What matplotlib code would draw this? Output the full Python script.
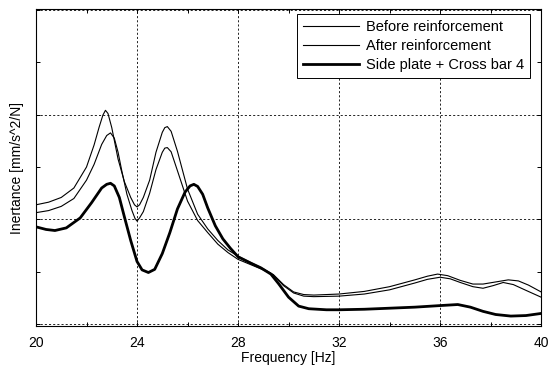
import matplotlib
matplotlib.use("Agg")
import matplotlib.pyplot as plt
from matplotlib.ticker import MultipleLocator, NullFormatter

plt.rcParams["font.family"] = ["Liberation Sans", "DejaVu Sans"]

# frequency [Hz] / inertance (no scale printed on the y axis)
freq_before = [20, 20.5, 21, 21.5, 22, 22.3, 22.5, 22.65, 22.75, 22.85, 23.0, 23.25,
               23.5, 23.75, 23.9, 24.0, 24.1, 24.25, 24.5, 24.75, 25.0, 25.1, 25.2,
               25.35, 25.6, 26.0, 26.4, 26.8, 27.2, 27.6, 28.0, 28.5, 29.0, 29.4,
               29.8, 30.2, 30.6, 31, 32, 33, 34, 35, 35.5, 35.9, 36.3, 36.8, 37.3,
               37.7, 38.2, 38.7, 39.1, 39.5, 40]
before = [2.28, 2.33, 2.42, 2.6, 3.0, 3.42, 3.76, 3.99, 4.08, 4.02, 3.75, 3.15,
          2.72, 2.42, 2.28, 2.24, 2.28, 2.42, 2.75, 3.28, 3.66, 3.75, 3.77,
          3.68, 3.3, 2.58, 2.1, 1.82, 1.6, 1.42, 1.3, 1.18, 1.06, 0.95,
          0.76, 0.62, 0.57, 0.56, 0.58, 0.63, 0.72, 0.85, 0.92, 0.96, 0.93, 0.84, 0.77,
          0.77, 0.81, 0.85, 0.83, 0.75, 0.62]

freq_after = [20, 20.5, 21, 21.5, 22, 22.3, 22.6, 22.8, 22.95, 23.1, 23.25, 23.4,
              23.6, 23.8, 23.92, 24.0, 24.1, 24.25, 24.5, 24.75, 25.0, 25.1, 25.2,
              25.35, 25.6, 26.0, 26.4, 26.8, 27.2, 27.6, 28.0, 28.5, 29.0, 29.4,
              29.8, 30.2, 30.6, 31, 32, 33, 34, 35, 35.5, 36.0, 36.4, 36.8, 37.3,
              37.7, 38.1, 38.5, 38.9, 39.4, 40]
after = [2.13, 2.17, 2.25, 2.4, 2.75, 3.05, 3.43, 3.6, 3.65, 3.55, 3.28, 2.92,
         2.48, 2.17, 2.02, 1.97, 2.03, 2.15, 2.5, 2.95, 3.28, 3.36, 3.37,
         3.29, 2.93, 2.35, 1.98, 1.75, 1.53, 1.37, 1.24, 1.14, 1.04, 0.94,
         0.74, 0.6, 0.54, 0.53, 0.54, 0.58, 0.66, 0.79, 0.86, 0.9, 0.87, 0.8, 0.72,
         0.69, 0.74, 0.8, 0.76, 0.65, 0.52]

freq_side = [20, 20.4, 20.75, 21.2, 21.75, 22.2, 22.6, 22.8, 22.95, 23.1, 23.3,
             23.5, 23.75, 24.0, 24.2, 24.45, 24.7, 25.0, 25.3, 25.6, 25.9, 26.1,
             26.25, 26.4, 26.6, 26.8, 27.1, 27.4, 27.7, 28.0, 28.5, 28.9, 29.3,
             29.6, 30.0, 30.4, 30.8, 31.5, 32, 33, 34, 35, 36, 36.7, 37.2, 37.7,
             38.2, 38.8, 39.4, 40]
side = [1.86, 1.81, 1.79, 1.84, 2.03, 2.32, 2.6, 2.67, 2.69, 2.64, 2.42,
        2.05, 1.6, 1.2, 1.04, 0.99, 1.05, 1.35, 1.75, 2.2, 2.52, 2.64,
        2.67, 2.63, 2.48, 2.22, 1.88, 1.63, 1.45, 1.29, 1.17, 1.08, 0.96,
        0.78, 0.52, 0.35, 0.3, 0.28, 0.28, 0.29, 0.31, 0.33, 0.36, 0.38, 0.33, 0.25,
        0.19, 0.16, 0.17, 0.21]

x_ticks = [20, 24, 28, 32, 36, 40]

fig = plt.figure(figsize=(5.59, 3.68), dpi=100)
ax = fig.add_axes([0.0644, 0.114, 0.9036, 0.8615])

ax.plot(freq_before, before, color="black", lw=0.8, label="Before reinforcement")
ax.plot(freq_after, after, color="black", lw=0.8, label="After reinforcement")
ax.plot(freq_side, side, color="black", lw=2.0, label="Side plate + Cross bar 4")

ax.set_xlim(20, 40)
ax.set_ylim(-0.03, 6.01)
ax.set_xticks(x_ticks)
ax.xaxis.set_minor_locator(MultipleLocator(2))
ax.yaxis.set_major_locator(MultipleLocator(2))
ax.yaxis.set_minor_locator(MultipleLocator(1))
ax.yaxis.set_major_formatter(NullFormatter())
ax.tick_params(which="both", direction="in", length=3, width=0.7, top=True, right=True)
ax.tick_params(axis="x", labelsize=10, pad=7)
ax.grid(True, which="major", color="black", linestyle=(0, (2.5, 2.5)), lw=0.6)

for s in ax.spines.values():
    s.set_linewidth(0.8)

ax.set_xlabel("Frequency [Hz]", fontsize=10, labelpad=1)
ax.set_ylabel("Inertance [mm/s^2/N]", fontsize=10, labelpad=5)

leg = ax.legend(loc="upper right", bbox_to_anchor=(0.978, 0.984), borderaxespad=0,
                fontsize=10.5, frameon=True, fancybox=False, edgecolor="black",
                framealpha=1, handlelength=3.8, handletextpad=0.5,
                borderpad=0.4, labelspacing=0.35)
leg.get_frame().set_linewidth(0.7)

fig.savefig("out.png", dpi=100)
